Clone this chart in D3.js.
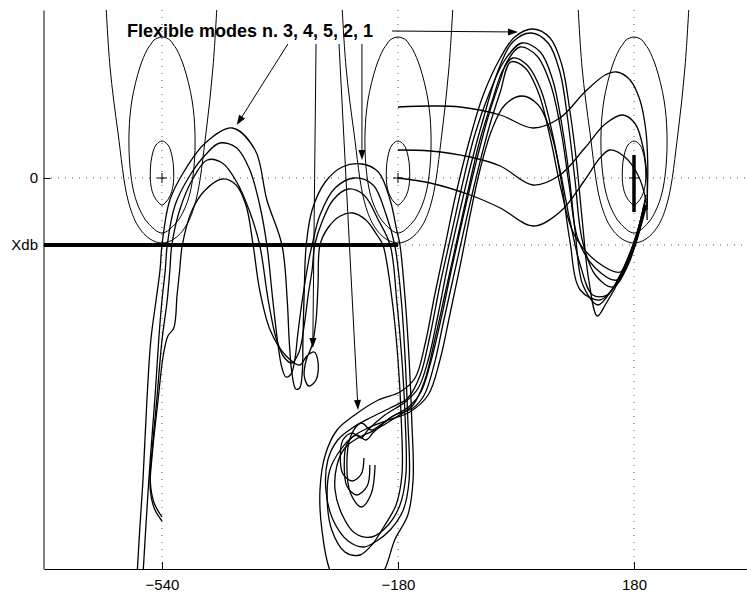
<!DOCTYPE html>
<html>
<head>
<meta charset="utf-8">
<script src="https://cdn.jsdelivr.net/npm/d3@7"></script>
<style>
  body { margin: 0; background: #fff; }
  svg { display: block; }
  text { font-family: "Liberation Sans", Arial, Helvetica, sans-serif; }
</style>
</head>
<body>
<div id="chart"></div>
<script>
// ---- axes ----
const phaseDomain = [-720, 360];      // open-loop phase, degrees
const gainDomain = [-78.2, 33.6];     // open-loop gain, dB
const phaseTicks = [-540, -180, 180];
const gainTicks = [0, -13.4];
const gainTickLabels = ["0", "Xdb"];
const xdb = -13.4;

// ---- Nichols grid: critical points and contour shapes (offsets in deg, dB) ----
const criticalPhases = [-540, -180, 180];
const contourInner = [[0,7.4],[9.2,6.6],[15.3,4.4],[17.8,1.6],[16.8,-1.6],[12.2,-3.6],[6.1,-4.8],[0,-5.4],
  [-6.1,-4.8],[-12.2,-3.6],[-16.8,-1.6],[-17.8,1.6],[-15.3,4.4],[-9.2,6.6]];
const contourOuter = [[0,28.2],[12.2,27.6],[16.8,26.8],[22.9,25.6],[33.6,22.2],[45.8,15.6],[50.3,9],[48.8,2.2],
  [42.7,-3],[33.6,-6.4],[21.4,-9],[0,-11],[-21.4,-9],[-33.6,-6.4],[-42.7,-3],[-48.8,2.2],[-50.3,9],[-45.8,15.6],
  [-33.6,22.2],[-22.9,25.6],[-16.8,26.8],[-12.2,27.6]];
const contourOpen = [[-86,36],[-79.3,22.2],[-67.1,9],[-51.9,-4.4],[-36.6,-9.6],[-18.3,-12.2],[0,-13],
  [18.3,-12.2],[36.6,-9.6],[51.9,-4.4],[67.1,9],[77.8,22.2],[84.5,36]];

// ---- frequency responses [phase deg, gain dB] ----
const response1 = [[-578,-79.4],[-574,-70.4],[-569,-60.4],[-563,-44.4],[-557,-32.4],[-549,-24.4],[-543,-18.4],[-540,-13.4],
  [-528,-4.4],[-505,1.6],[-474,7],[-433,10],[-398,5.6],[-380,-4.4],[-357,-13.4],[-349,-24.4],[-346,-32.4],[-342,-38.8],
  [-336,-42.2],[-330,-42],[-326,-38.8],[-325,-32.4],[-323,-22.4],[-320,-13.4],[-311,-6.4],[-291,-0.8],[-265,2.2],[-235,2.8],
  [-210,1.2],[-192,-4.4],[-182,-10.4],[-177,-13.4],[-169,-24.4],[-163,-36.4],[-159,-48.4],[-157,-60.4],[-165,-67.4],
  [-185,-72.4],[-200,-78.2],[-238,-86.4],[-281,-79.4],[-296,-70.4],[-299,-62.4],[-291,-55.4],[-273,-50.4],[-246,-47.4],
  [-210,-44.4],[-177,-42.8],[-154,-40],[-139,-33.4],[-124,-23.4],[-108,-13.4],[-92,-3.4],[-73,6.6],[-50,16.6],
  [-24,24],[-2,28.2],[26,29.8],[52,28],[70,22.6],[82,13.6],[92,3.6],[101,-8.4],[111,-20.4],[124,-27.6],[137,-25.2],
  [159,-20],[179,-13.4],[194,-6.4],[198,-3.4]];
const response2 = [[-569,-79.4],[-564,-68.4],[-558,-56.4],[-551,-44.4],[-545,-32.4],[-540,-24.4],[-535,-18.4],[-532,-13.4],
  [-520,-5.4],[-497,0.6],[-474,4.6],[-452,7],[-426,6],[-406,1.6],[-391,-5.4],[-380,-13.4],[-371,-24.4],[-363,-33.4],
  [-357,-38],[-351,-39.8],[-343,-39.2],[-337,-36],[-333,-31.4],[-326,-24.4],[-316,-16.4],[-311,-13.4],[-299,-7.4],[-276,-2],[-246,0],
  [-218,-1.4],[-198,-7.4],[-185,-13.4],[-175,-24.4],[-169,-36.4],[-165,-48.4],[-163,-60.4],[-172,-66.4],[-192,-70.4],
  [-215,-72.8],[-233,-73.8],[-256,-72.6],[-279,-68.4],[-290,-62.4],[-287,-56.4],[-272,-52.4],[-250,-50],[-223,-48],
  [-192,-46],[-165,-44],[-146,-39.4],[-131,-31.4],[-116,-21.4],[-99,-11.4],[-82,-1.4],[-63,8.6],[-40,17.2],[-17,23.6],
  [9,27],[37,25.2],[56,19.6],[70,10.6],[81,0.6],[90,-10.4],[102,-21.4],[125,-25.4],[143,-23],[163,-18.4],[182,-12.4],[197,-5.4]];
const response3 = [[-540,-67.8],[-552,-65],[-558,-60.4],[-555,-54.4],[-548,-44.4],[-540,-32.4],[-532,-24.4],[-528,-18.4],
  [-525,-13.4],[-513,-6.4],[-494,-0.4],[-471,3.6],[-448,3],[-426,-0.8],[-406,-6.8],[-391,-13.4],[-378,-24.4],[-366,-32],
  [-354,-35.8],[-342,-37],[-331,-34.8],[-323,-29.4],[-317,-23.4],[-311,-18.4],[-307,-13.4],[-296,-8.8],[-279,-4.4],[-256,-2.2],[-232,-3.4],
  [-210,-8.4],[-192,-13.4],[-182,-24.4],[-174,-36.4],[-169,-48.4],[-168,-59.4],[-177,-65.4],[-195,-69.4],[-220,-71.8],
  [-246,-71],[-265,-67.4],[-276,-62.4],[-273,-57.4],[-261,-54],[-241,-52],[-215,-50.4],[-185,-48],[-157,-45.4],
  [-139,-40.4],[-124,-32.4],[-107,-22.4],[-90,-12.4],[-73,-2.4],[-55,7.6],[-35,16],[-20,21.6],[-5,24],[17,22.6],
  [38,17.6],[56,8.6],[70,-1.4],[82,-12.4],[98,-22.4],[128,-24.4],[146,-22.4],[166,-17.4],[185,-10.8],[195,-5.4]];
const response4 = [[-540,-68.6],[-552,-66],[-558,-62],[-555,-55.4],[-546,-44.4],[-538,-35.4],[-531,-31.6],[-522,-30],
  [-517,-23.4],[-513,-18.4],[-509,-13.4],[-494,-6.4],[-474,-2.4],[-448,-0.2],[-427,-1.4],[-412,-5.4],[-401,-13.4],
  [-391,-22.4],[-375,-30.4],[-352,-35.4],[-330,-37.4],[-319,-35.6],[-308,-34.8],[-302,-36.8],[-305,-40.4],[-316,-41.6],
  [-323,-39.6],[-320,-36.4],[-311,-33.4],[-305,-28.4],[-302,-21.4],[-299,-13.4],[-287,-10],[-268,-7.6],[-249,-7],
  [-229,-8.4],[-212,-11.4],[-203,-13.4],[-189,-24.4],[-180,-36.4],[-175,-48.4],[-174,-59.4],[-183,-65.4],[-200,-69.4],
  [-220,-73.4],[-238,-75.4],[-261,-74.8],[-281,-70.4],[-288,-64.4],[-284,-58.4],[-268,-54.4],[-250,-51.8],[-226,-50],
  [-195,-48.4],[-162,-46.8],[-134,-43.4],[-116,-36.4],[-101,-27.4],[-85,-17.4],[-70,-7.4],[-55,1.6],[-37,9.6],
  [-17,14.6],[9,16.4],[34,14.6],[52,9.6],[67,1.6],[82,-8.4],[98,-17.4],[117,-23.4],[139,-23.4],[159,-19.4],
  [179,-13.4],[192,-7.4],[197,-4.4]];
const response5 = [[-232,-56],[-236,-59.2],[-250,-60.6],[-264,-59.2],[-268,-55.8],[-264,-52.4],[-250,-51],[-236,-52],
  [-226,-50.4],[-200,-47.4],[-169,-44.8],[-149,-42],[-134,-36.4],[-119,-27.4],[-104,-17.4],[-87,-7.4],[-69,2.6],
  [-47,13.2],[-27,21.6],[-5,27.2],[23,29],[49,27],[67,21.2],[79,11.6],[90,-0.4],[101,-12.4],[121,-19.4],[148,-21.8],
  [171,-17.4],[186,-11.4],[197,-5.4]];
const response6 = [[-223,-57.4],[-227,-61.6],[-243,-63.4],[-258,-61.6],[-262,-57.4],[-258,-53.2],[-243,-51.4],[-229,-52.4],
  [-217,-50.8],[-192,-48],[-162,-45.6],[-145,-42.8],[-130,-36.8],[-114,-28],[-98,-18],[-81,-8],[-63,2],[-43,12],
  [-24,19.6],[-14,23.2],[6,26.2],[32,24.4],[53,18.6],[69,9.2],[81,-1.4],[95,-12.4],[121,-18],[154,-20.4],[174,-16],[189,-10],[198,-5.4]];
const response7 = [[-215,-57.4],[-221,-63.2],[-236,-65.8],[-252,-63.2],[-258,-57.4],[-252,-51.6],[-236,-49],[-221,-50.4],
  [-207,-49.4],[-185,-47.4],[-157,-46],[-140,-43.4],[-125,-37.4],[-110,-28.4],[-93,-18.4],[-76,-8.4],[-58,1.6],
  [-40,10.6],[-24,17.2],[-8,23.2],[14,22],[35,16.8],[53,7.6],[69,-2.4],[89,-11.4],[124,-16.8],[159,-18.8],
  [179,-14.4],[191,-9.4],[198,-6]];
const response8 = [[-180,14.2],[-131,14.4],[-85,14.2],[-24,12.6],[26,10],[67,12],[105,17.2],[136,20.6],[154,21.2],
  [174,19.6],[189,15.6],[198,9.6],[201,2.6],[200,-4.4]];
const response9 = [[-180,5.6],[-131,5.4],[-70,4.2],[-24,2.4],[26,-1.4],[67,0.6],[105,6],[136,10.8],[163,12.6],
  [182,10.8],[194,6],[200,-0.4],[200,-6.4]];
const response10 = [[-180,0],[-131,-1],[-70,-3.4],[-24,-6],[26,-9.6],[67,-6.8],[105,-0.4],[128,4],[143,5.6],
  [166,4.2],[186,0.6],[198,-4.4],[200,-8.4]];
const responses = [response1, response2, response3, response4, response5, response6, response7, response8, response9, response10];

// vertical segment at +180 deg
const phaseMarker = [[180, 4.6], [180, -6.8]];

// ---- annotation ----
const annotationText = "Flexible modes n. 3, 4, 5, 2, 1";
const modeArrows = [
  { mode: 3, from: [-348, 26.8], to: [-426, 10.6] },
  { mode: 4, from: [-305, 26.8], to: [-310, -34] },
  { mode: 5, from: [-235, 26.8], to: [-235, 3.6] },
  { mode: 2, from: [-270, 26.8], to: [-241, -46.4] },
  { mode: 1, from: [-189, 29.4], to: [3, 29.2] }
];

// ---- drawing ----
const W = 747, H = 594;
const x = d3.scaleLinear().domain(phaseDomain).range([44, 752]);
const y = d3.scaleLinear().domain(gainDomain).range([569, 10]);

const svg = d3.select("#chart").append("svg").attr("width", W).attr("height", H);

svg.append("defs").append("clipPath").attr("id", "plotClip")
  .append("rect").attr("x", 44).attr("y", 10).attr("width", 708).attr("height", 559);

// dotted grid
const grid = svg.append("g").attr("stroke", "#555").attr("stroke-width", 1)
  .attr("stroke-dasharray", "1,6").attr("fill", "none");
criticalPhases.forEach(p => {
  grid.append("line").attr("x1", x(p)).attr("x2", x(p)).attr("y1", y(gainDomain[1])).attr("y2", y(gainDomain[0]));
});
grid.append("line").attr("x1", x(phaseDomain[0])).attr("x2", x(phaseDomain[1])).attr("y1", y(0)).attr("y2", y(0));
grid.append("line").attr("x1", x(-180)).attr("x2", x(phaseDomain[1])).attr("y1", y(xdb)).attr("y2", y(xdb));

const plot = svg.append("g").attr("clip-path", "url(#plotClip)");

// Nichols contours around each critical point
const closedLine = d3.line().x(d => x(d[0])).y(d => y(d[1])).curve(d3.curveCatmullRomClosed.alpha(0.5));
const openLine = d3.line().x(d => x(d[0])).y(d => y(d[1])).curve(d3.curveCatmullRom.alpha(0.5));
const contours = plot.append("g").attr("fill", "none").attr("stroke", "#000").attr("stroke-width", 1);
criticalPhases.forEach(p => {
  const shift = pts => pts.map(d => [p + d[0], d[1]]);
  contours.append("path").attr("d", closedLine(shift(contourInner)));
  contours.append("path").attr("d", closedLine(shift(contourOuter)));
  contours.append("path").attr("d", openLine(shift(contourOpen)));
  // critical point marker
  const cx = x(p), cy = y(0);
  contours.append("path").attr("d", `M${cx - 5},${cy}H${cx + 5}M${cx},${cy - 5}V${cy + 5}`);
});

// frequency responses
plot.append("g").attr("fill", "none").attr("stroke", "#000").attr("stroke-width", 1.3)
  .attr("stroke-linejoin", "round")
  .selectAll("path").data(responses).join("path")
  .attr("d", openLine);

// Xdb level
plot.append("line").attr("x1", x(phaseDomain[0])).attr("x2", x(-180))
  .attr("y1", y(xdb)).attr("y2", y(xdb)).attr("stroke", "#000").attr("stroke-width", 4);

// phase marker at +180
plot.append("line").attr("x1", x(phaseMarker[0][0])).attr("x2", x(phaseMarker[1][0]))
  .attr("y1", y(phaseMarker[0][1])).attr("y2", y(phaseMarker[1][1]))
  .attr("stroke", "#000").attr("stroke-width", 3.5);

// axes
const xAxis = d3.axisBottom(x).tickValues(phaseTicks).tickSizeInner(-7).tickSizeOuter(0).tickPadding(10);
const yAxis = d3.axisLeft(y).tickValues(gainTicks).tickFormat((d, i) => gainTickLabels[i])
  .tickSizeInner(-7).tickSizeOuter(0).tickPadding(5.5);

const gx = svg.append("g").attr("transform", `translate(0,${y(gainDomain[0])})`).call(xAxis);
const gy = svg.append("g").attr("transform", `translate(${x(phaseDomain[0]) - 0.5},0)`).call(yAxis);
[gx, gy].forEach(g => {
  g.selectAll("text").attr("font-size", 15).attr("fill", "#000")
    .attr("font-family", '"Liberation Sans", Arial, Helvetica, sans-serif');
  g.selectAll("line, path").attr("stroke", "#000").attr("stroke-width", 1);
});

// annotation
const ann = svg.append("g");
ann.append("text").attr("x", 127).attr("y", 37)
  .attr("font-size", 18).attr("font-weight", "bold").attr("fill", "#000")
  .text(annotationText);

modeArrows.forEach(a => {
  const x0 = x(a.from[0]), y0 = y(a.from[1]);
  const x1 = x(a.to[0]), y1 = y(a.to[1]);
  const len = Math.hypot(x1 - x0, y1 - y0);
  const ux = (x1 - x0) / len, uy = (y1 - y0) / len;
  const hl = 10, hw = 3.5;
  const bx = x1 - ux * hl, by = y1 - uy * hl;
  ann.append("line").attr("x1", x0).attr("y1", y0).attr("x2", bx + ux * 2).attr("y2", by + uy * 2)
    .attr("stroke", "#000").attr("stroke-width", 1);
  ann.append("path")
    .attr("d", `M${x1},${y1}L${bx - uy * hw},${by + ux * hw}L${bx + uy * hw},${by - ux * hw}Z`)
    .attr("fill", "#000");
});
</script>
</body>
</html>
